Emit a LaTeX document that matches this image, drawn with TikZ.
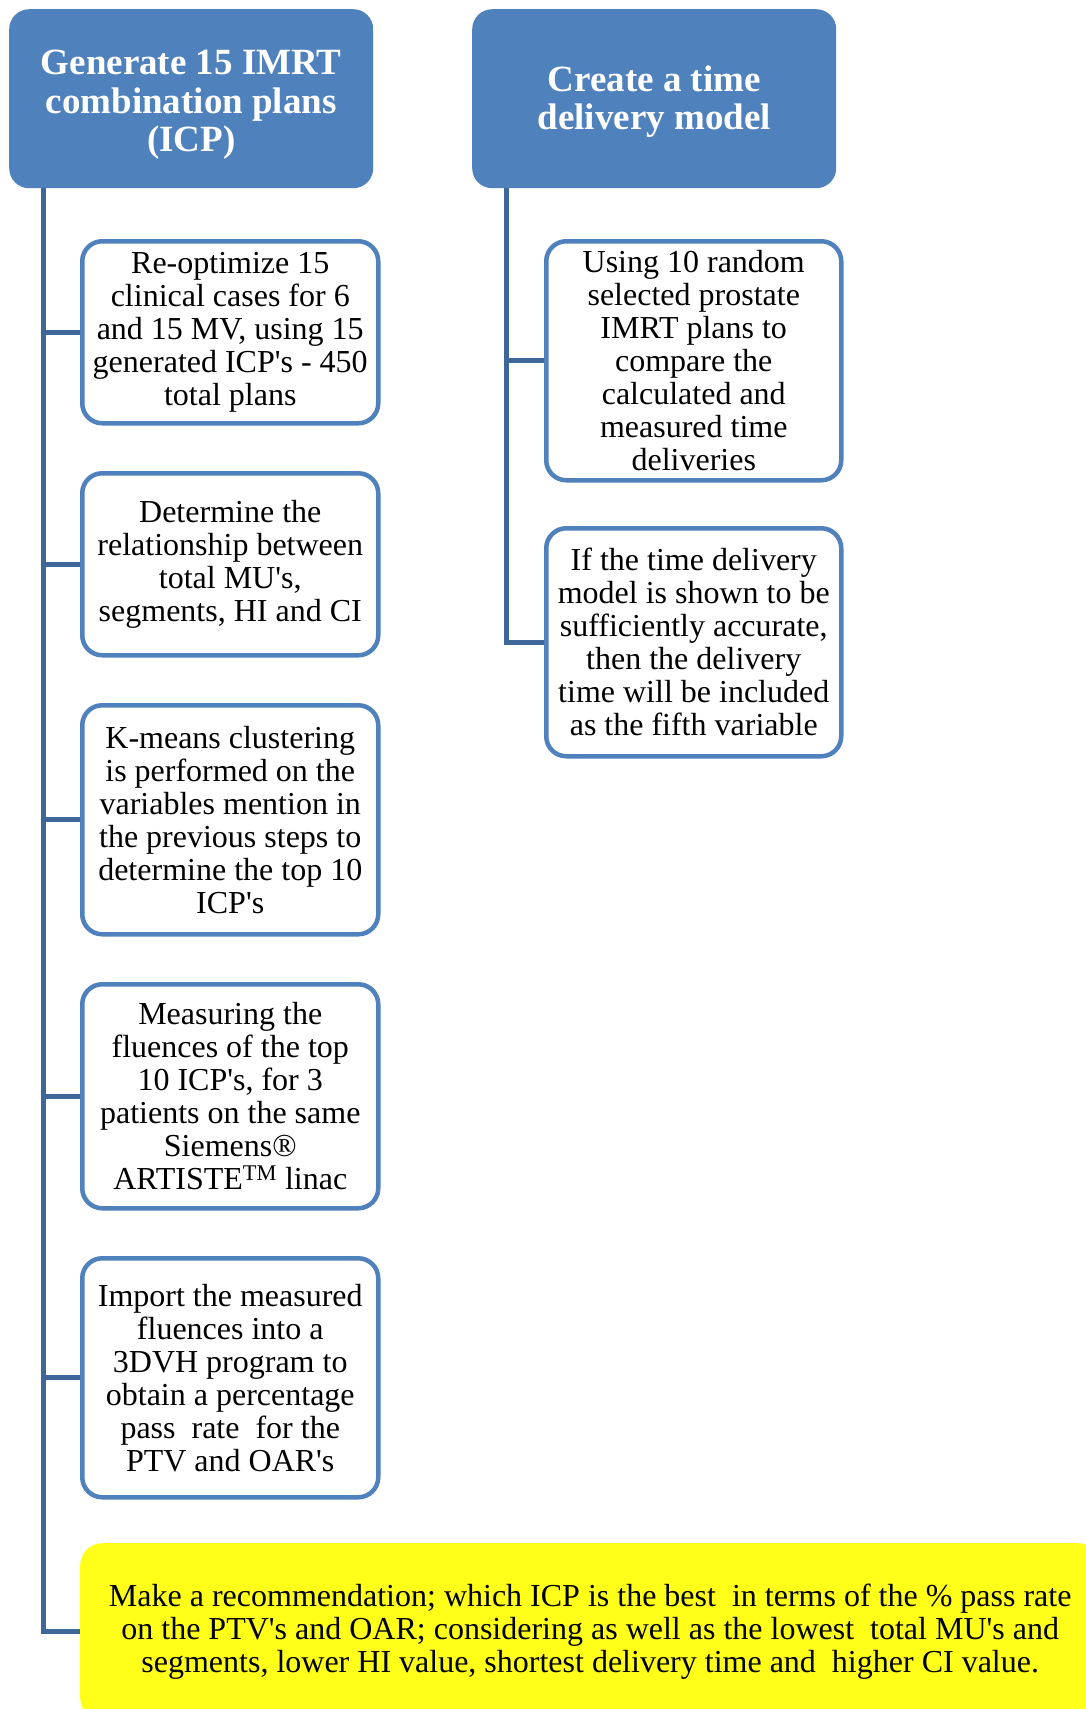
\documentclass[tikz,border=0pt]{standalone}
\usepackage{fontspec}
\setmainfont{Liberation Serif}[Ligatures=TeXOff]
\definecolor{headblue}{HTML}{4F81BD}
\definecolor{rimblue}{HTML}{4F81BD}
\definecolor{spineblue}{HTML}{3F6699}
\definecolor{recyellow}{HTML}{FFFF1A}
\tikzset{
  headbox/.style={draw=none, fill=headblue, rounded corners=20pt, anchor=north west,
    minimum width=364pt, minimum height=179pt, inner sep=0pt},
  headtext/.style={align=center, inner sep=0pt, text=white,
    font=\fontsize{37}{38.5}\selectfont\bfseries},
  stepbox/.style={draw=rimblue, line width=4.5pt, fill=white, rounded corners=20pt,
    anchor=north west, minimum width=296pt, align=center, inner sep=0pt,
    font=\fontsize{32}{33}\selectfont},
  recbox/.style={draw=none, fill=recyellow, rounded corners=22pt, anchor=north west,
    minimum width=1020pt, minimum height=177pt, align=center, inner sep=0pt,
    font=\fontsize{32}{33}\selectfont},
  conn/.style={draw=spineblue, line width=5pt}
}
\begin{document}
\begin{tikzpicture}[x=1pt, y=-1pt]
\clip (0,0) rectangle (1086,1709);
\fill[white] (0,0) rectangle (1086,1709);

% column headers
\node[headbox] (h1) at (9,9) {};
\node[headtext] (h1t) at ([yshift=-6pt]h1.center) {Generate 15 IMRT\\combination plans\\(ICP)};
\node[headbox] (h2) at (472,9) {};
\node[headtext] (h2t) at ([yshift=-3pt]h2.center) {Create a time\\delivery model};

% left column steps
\node[stepbox, minimum height=182pt] (b1) at (80,239)
  {Re-optimize 15\\clinical cases for 6\\and 15 MV, using 15\\generated ICP's - 450\\total plans};
\node[stepbox, minimum height=182pt] (b2) at (80,471)
  {Determine the\\relationship between\\total MU's,\\segments, HI and CI};
\node[stepbox, minimum height=229pt] (b3) at (80,703)
  {K-means clustering\\is performed on the\\variables mention in\\the previous steps to\\determine the top 10\\ICP's};
\node[stepbox, minimum height=224pt] (b4) at (80,982)
  {Measuring the\\fluences of the top\\10 ICP's, for 3\\patients on the same\\Siemens®\\ARTISTE\textsuperscript{TM} linac};
\node[stepbox, minimum height=239pt] (b5) at (80,1256)
  {Import the measured\\fluences into a\\3DVH program to\\obtain a percentage\\pass\ \ rate\ \ for the\\PTV and OAR's};

% right column steps
\node[stepbox, minimum width=295pt, minimum height=239pt] (r1) at (544,239)
  {Using 10 random\\selected prostate\\IMRT plans to\\compare the\\calculated and\\measured time\\deliveries};
\node[stepbox, minimum width=295pt, minimum height=228pt] (r2) at (544,526)
  {If the time delivery\\model is shown to be\\sufficiently accurate,\\then the delivery\\time will be included\\as the fifth variable};

% final recommendation
\node[recbox] (rec) at (80,1543)
  {Make a recommendation; which ICP is the best\ \ in terms of the \% pass rate\\
   on the PTV's and OAR; considering as well as the lowest\ \ total MU's and\\
   segments, lower HI value, shortest delivery time and\ \ higher CI value.};

% spines hanging from the headers
\coordinate (s1) at ([xshift=34pt]h1.south west);
\coordinate (s2) at ([xshift=34pt]h2.south west);

\foreach \b in {b1,b2,b3,b4,b5,rec} \draw[conn] (s1) |- (\b.west);
\foreach \b in {r1,r2} \draw[conn] (s2) |- (\b.west);
\end{tikzpicture}
\end{document}
